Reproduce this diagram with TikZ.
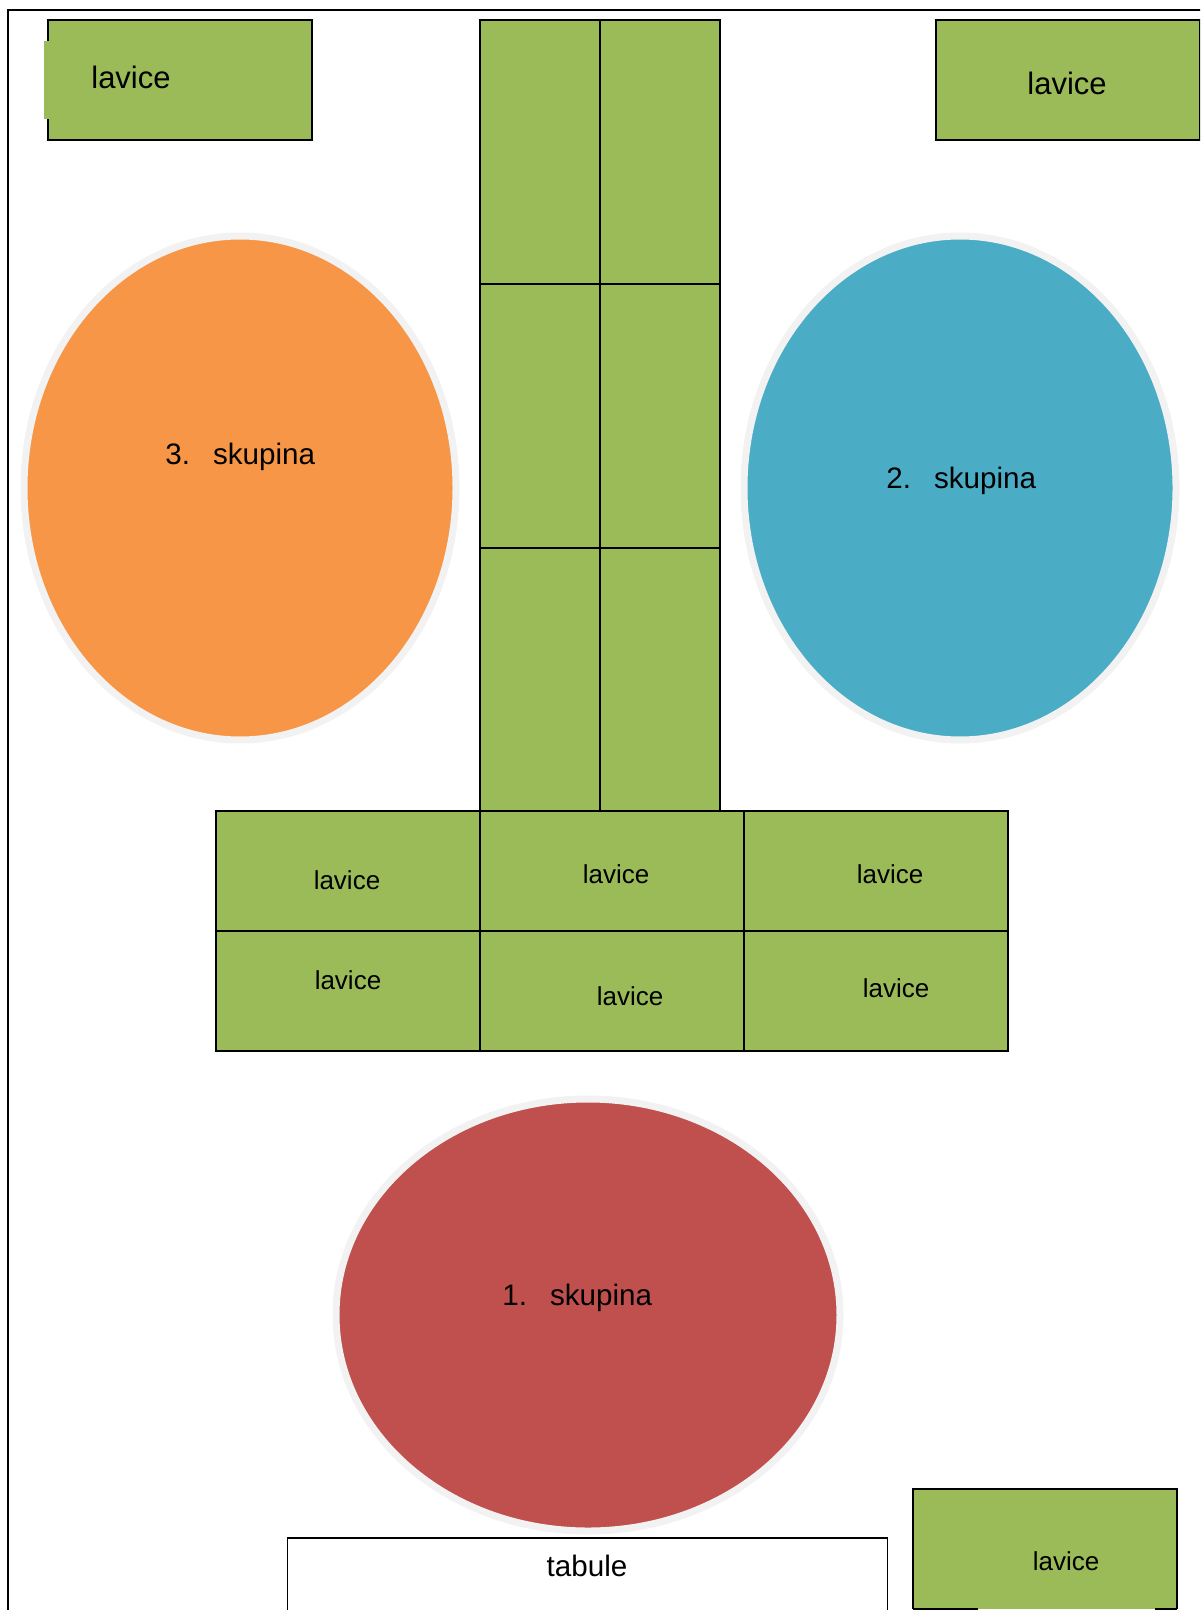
\documentclass[tikz,border=0pt]{standalone}
\usepackage{xcolor}
\usepackage{fontspec}
\setmainfont{Liberation Sans}
\usepackage{tikz}
\usetikzlibrary{positioning,shapes.geometric}
\definecolor{BenchGreen}{HTML}{9BBB59}
\definecolor{GroupOrange}{HTML}{F79646}
\definecolor{GroupBlue}{HTML}{4BACC6}
\definecolor{GroupRed}{HTML}{C0504D}
\definecolor{RingGray}{HTML}{F2F2F2}

\begin{document}
\begin{tikzpicture}[
  x=0.5pt, y=-0.5pt,
  node distance=0pt,
  bench/.style={draw,line width=1pt,fill=BenchGreen,outer sep=0pt,inner sep=0pt,minimum width=132pt,minimum height=60pt},
  cell/.style={bench,minimum width=60pt,minimum height=131.75pt},
  group/.style={ellipse,draw=RingGray,line width=3.5pt,inner sep=0pt},
  txt/.style={font=\fontsize{13}{15}\selectfont,inner sep=0pt},
  big/.style={font=\fontsize{15.5}{18}\selectfont,inner sep=0pt},
  skup/.style={font=\fontsize{14.8}{17}\selectfont,inner sep=0pt,anchor=base west}
]
  \useasboundingbox (0,0) rectangle (1200,1610);
  \clip (0,0) rectangle (1200,1610);
  \fill[white] (0,0) rectangle (1200,1610);
  \draw[line width=1pt] (8,1620) -- (8,10) -- (1210,10);

  % benches in the corners
  \node[bench] (tl) at (180,80) {};
  \fill[BenchGreen] (44,41) rectangle (49,119);
  \node[big] (tl-txt) at (131,77) {lavice};
  \node[bench] (tr) at (1068,80) {};
  \node[big] (tr-txt) at (1067,83) {lavice};

  % middle column
  \node[cell,anchor=north west] (col-l1) at (480,20.5) {};
  \node[cell,right=of col-l1] (col-r1) {};
  \node[cell,below=of col-l1] (col-l2) {};
  \node[cell,right=of col-l2] (col-r2) {};
  \node[cell,below=of col-l2] (col-l3) {};
  \node[cell,right=of col-l3] (col-r3) {};

  % benches across
  \node[bench,anchor=north east] (row-a1) at (col-l3.south west) {};
  \node[bench,right=of row-a1] (row-b1) {};
  \node[bench,right=of row-b1] (row-c1) {};
  \node[bench,below=of row-a1] (row-a2) {};
  \node[bench,right=of row-a2] (row-b2) {};
  \node[bench,right=of row-b2] (row-c2) {};
  \node[txt] (lav-a1) at (347,880) {lavice};
  \node[txt] (lav-b1) at (616,874) {lavice};
  \node[txt] (lav-c1) at (890,874) {lavice};
  \node[txt] (lav-a2) at (348,980) {lavice};
  \node[txt] (lav-b2) at (630,996) {lavice};
  \node[txt] (lav-c2) at (896,988) {lavice};

  % groups
  \node[group,fill=GroupOrange,minimum width=216pt,minimum height=252pt] (sk3) at (240,488) {};
  \node[skup] (sk3-txt) at (165,464) {3.\hspace{11.5pt}skupina};
  \node[group,fill=GroupBlue,minimum width=216pt,minimum height=252pt] (sk2) at (960,488) {};
  \node[skup] (sk2-txt) at (886,488) {2.\hspace{11.5pt}skupina};
  \node[group,fill=GroupRed,minimum width=252pt,minimum height=216pt] (sk1) at (588,1315) {};
  \node[skup] (sk1-txt) at (502,1305) {1.\hspace{11.5pt}skupina};

  % board and last bench
  \node[draw,line width=0.8pt,fill=white,outer sep=0pt,minimum width=300pt,minimum height=41pt] (tab) at (587.5,1579) {};
  \node[skup,anchor=center] (tab-txt) at (587,1566) {tabule};
  \node[bench,draw=none] (br) at (1045,1549) {};
  \draw[line width=1pt] (br.south west) -- (br.north west) -- (br.north east) -- (br.south east);
  \draw[line width=1pt] (br.south west) -- ([xshift=32.5pt]br.south west);
  \draw[line width=1pt] ([xshift=-11pt]br.south east) -- (br.south east);
  \node[txt] (br-txt) at (1066,1561) {lavice};
\end{tikzpicture}
\end{document}
